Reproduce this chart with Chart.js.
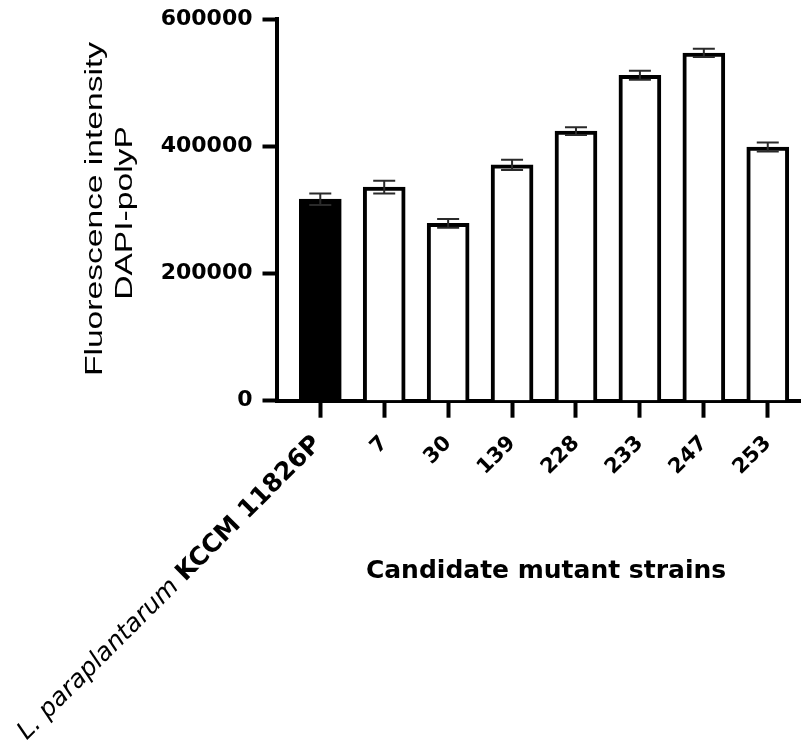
<!DOCTYPE html>
<html>
<head>
<meta charset="utf-8">
<script src="https://cdn.jsdelivr.net/npm/chart.js@4"></script>
<style>
html,body{margin:0;padding:0;background:#ffffff;}
#wrap{width:801px;height:742px;position:relative;overflow:hidden;}
canvas{display:block;}
</style>
</head>
<body>
<div id="wrap"><canvas id="c" width="801" height="742"></canvas></div>
<script>
// ---- data ----
const categories = ['L. paraplantarum KCCM 11826P', '7', '30', '139', '228', '233', '247', '253'];
const firstLabelItalic = 'L. paraplantarum ';
const firstLabelBold = 'KCCM 11826P';
const values = [317000, 336000, 279000, 371000, 424000, 512000, 547000, 399000];
const errors = [9000, 10000, 7000, 8000, 6000, 7000, 6500, 7000];
const barFills = ['#000000', '#ffffff', '#ffffff', '#ffffff', '#ffffff', '#ffffff', '#ffffff', '#ffffff'];
const yTicks = [0, 200000, 400000, 600000];
const yTitleLines = ['Fluorescence intensity', 'DAPI-polyP'];
const xTitle = 'Candidate mutant strains';

const errorBarPlugin = {
  id: 'errorBars',
  afterDatasetsDraw(chart) {
    const ctx = chart.ctx;
    const xs = chart.scales.x, ys = chart.scales.y;
    ctx.save();
    ctx.strokeStyle = '#2a2a2a';
    ctx.lineWidth = 2;
    values.forEach((v, i) => {
      const x = xs.getPixelForValue(i);
      const yt = ys.getPixelForValue(v + errors[i]);
      const yb = ys.getPixelForValue(v - errors[i]);
      ctx.beginPath();
      ctx.moveTo(x, yt); ctx.lineTo(x, yb);
      ctx.moveTo(x - 11, yt); ctx.lineTo(x + 11, yt);
      ctx.moveTo(x - 11, yb); ctx.lineTo(x + 11, yb);
      ctx.stroke();
    });
    ctx.restore();
  }
};

const textPlugin = {
  id: 'texts',
  afterDraw(chart) {
    const ctx = chart.ctx;
    const xs = chart.scales.x;
    ctx.save();
    ctx.fillStyle = '#000';
    // x tick labels, rotated 45 degrees
    categories.forEach((c, i) => {
      const x = xs.getPixelForValue(i);
      ctx.save();
      ctx.textAlign = 'right';
      ctx.textBaseline = 'alphabetic';
      if (i === 0) {
        ctx.translate(x + 2, 445);
        ctx.rotate(-Math.PI / 4);
        ctx.font = 'bold 25px "DejaVu Sans"';
        ctx.fillText(firstLabelBold, 0, 0);
        const w = ctx.measureText(firstLabelBold).width;
        ctx.font = 'italic 25px "DejaVu Sans"';
        ctx.fillText(firstLabelItalic, -w, 0);
      } else {
        ctx.translate(x + 4, 444);
        ctx.rotate(-Math.PI / 4);
        ctx.font = 'bold 21px "DejaVu Sans"';
        ctx.fillText(c, 0, 0);
      }
      ctx.restore();
    });
    // x axis title
    ctx.font = 'bold 25px "DejaVu Sans"';
    ctx.textAlign = 'center';
    ctx.textBaseline = 'alphabetic';
    ctx.fillText(xTitle, xs.getPixelForValue(3.5) + 2, 578);
    // y axis title (two lines, rotated)
    const yCenters = [209, 213];
    const yBaselines = [102, 132];
    ctx.font = '23px "Liberation Sans"';
    yTitleLines.forEach((t, k) => {
      ctx.save();
      ctx.translate(yBaselines[k], yCenters[k]);
      ctx.rotate(-Math.PI / 2);
      ctx.scale(1.46, 1);
      ctx.textAlign = 'center';
      ctx.fillText(t, 0, 0);
      ctx.restore();
    });
    ctx.restore();
  }
};

new Chart(document.getElementById('c'), {
  type: 'bar',
  data: {
    datasets: [{
      data: values.map((v, i) => ({ x: i, y: v })),
      backgroundColor: barFills,
      borderColor: '#000000',
      borderWidth: 4,
      borderSkipped: 'start',
      barThickness: 42
    }]
  },
  options: {
    responsive: false,
    animation: false,
    devicePixelRatio: 1,
    layout: { autoPadding: false, padding: { top: 19.3, left: 156.5, right: 0, bottom: 0 } },
    plugins: { legend: { display: false }, tooltip: { enabled: false } },
    scales: {
      x: {
        type: 'linear',
        position: 'bottom',
        offset: false,
        min: -0.685,
        max: 7.52,
        afterBuildTicks: s => { s.ticks = categories.map((c, i) => ({ value: i })); },
        afterFit: s => { s.height = 341.3; s.paddingLeft = 0; s.paddingRight = 0; s.paddingTop = 0; s.paddingBottom = 0; },
        grid: { offset: false, drawOnChartArea: false, drawTicks: true, tickLength: 17, tickWidth: 4, tickColor: '#000' },
        border: { display: true, color: '#000', width: 4 },
        ticks: { display: false }
      },
      y: {
        min: 0,
        max: 600000,
        afterBuildTicks: s => { s.ticks = yTicks.map(v => ({ value: v })); },
        afterFit: s => { s.width = 120; s.paddingTop = 0; s.paddingBottom = 0; s.paddingLeft = 0; s.paddingRight = 0; },
        grid: { drawOnChartArea: false, drawTicks: true, tickLength: 14, tickWidth: 4, tickColor: '#000' },
        border: { display: true, color: '#000', width: 4 },
        ticks: {
          color: '#000',
          padding: 10,
          font: { family: 'DejaVu Sans', weight: 'bold', size: 22 },
          callback: v => String(v)
        }
      }
    }
  },
  plugins: [errorBarPlugin, textPlugin]
});
</script>
</body>
</html>
